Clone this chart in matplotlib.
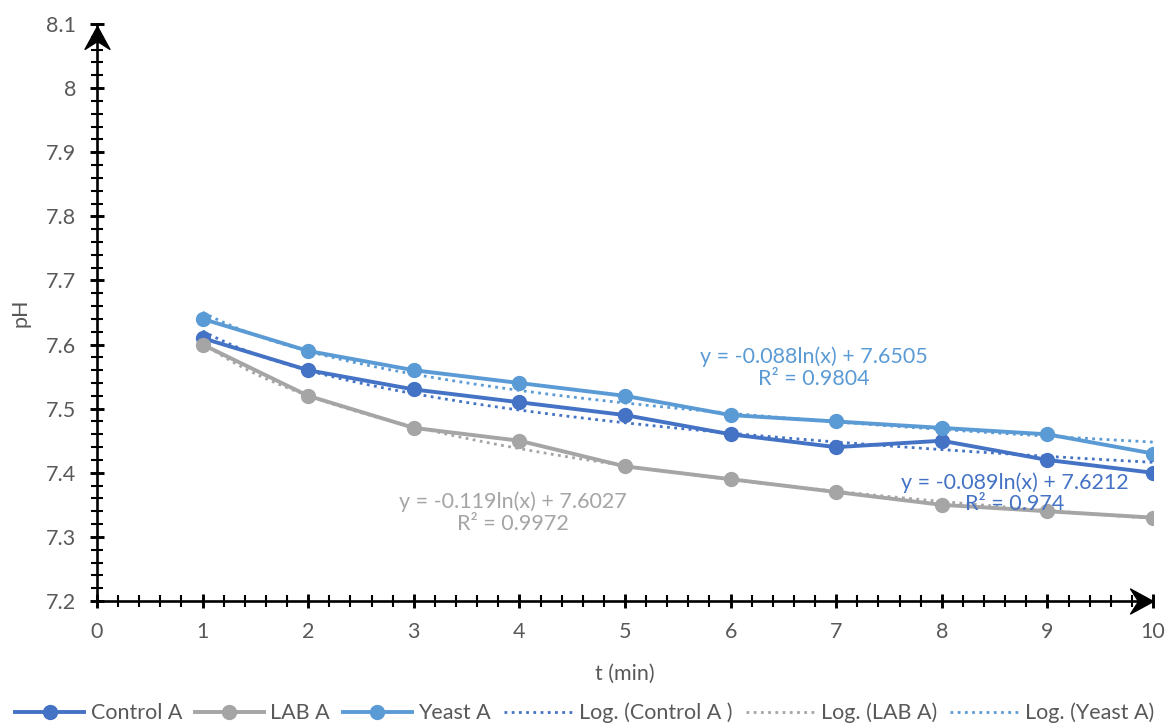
import numpy as np
import matplotlib
matplotlib.use('Agg')
import matplotlib.pyplot as plt
from matplotlib.path import Path
from matplotlib.ticker import MultipleLocator

plt.rcParams['font.family'] = ['Lato', 'DejaVu Sans']

t = [1, 2, 3, 4, 5, 6, 7, 8, 9, 10]
control_a = [7.61, 7.56, 7.53, 7.51, 7.49, 7.46, 7.44, 7.45, 7.42, 7.40]
lab_a = [7.60, 7.52, 7.47, 7.45, 7.41, 7.39, 7.37, 7.35, 7.34, 7.33]
yeast_a = [7.64, 7.59, 7.56, 7.54, 7.52, 7.49, 7.48, 7.47, 7.46, 7.43]

# log trendline coefficients: y = a*ln(x) + b, and R^2
fit_control = (-0.089, 7.6212, 0.974)
fit_lab = (-0.119, 7.6027, 0.9972)
fit_yeast = (-0.088, 7.6505, 0.9804)

c_control = '#4472C4'
c_lab = '#A5A5A5'
c_yeast = '#5B9BD5'
grey_txt = '#595959'

fig = plt.figure(figsize=(11.7, 7.26), dpi=100)
ax = fig.add_axes([97/1170, 1 - 601/726, (1153-97)/1170, (601-24)/726])

series = [
    ('Control A', control_a, c_control),
    ('LAB A', lab_a, c_lab),
    ('Yeast A', yeast_a, c_yeast),
]
for name, vals, col in series:
    ax.plot(t, vals, color=col, lw=2.8, marker='o', ms=10, label=name, zorder=3)

xs = np.linspace(1, 10, 200)
trend = [
    ('Log. (Control A )', fit_control, c_control),
    ('Log. (LAB A)', fit_lab, c_lab),
    ('Log. (Yeast A)', fit_yeast, c_yeast),
]
for name, (a, b, r2), col in trend:
    ax.plot(xs, a * np.log(xs) + b, color=col, lw=2, ls=(0, (1, 1.6)),
            label=name, zorder=4)

def eq_label(x, y, fit, col):
    a, b, r2 = fit
    txt = 'y = %gln(x) + %g\nR² = %g' % (a, b, r2)
    ax.text(x, y, txt, color=col, fontsize=15.5, ha='center', va='center',
            linespacing=1.1, zorder=5)

eq_label(6.79, 7.564, fit_yeast, c_yeast)
eq_label(8.69, 7.368, fit_control, c_control)
eq_label(3.94, 7.338, fit_lab, c_lab)

ax.set_xlim(0, 10)
ax.set_ylim(7.2, 8.1)
ax.xaxis.set_major_locator(MultipleLocator(1))
ax.xaxis.set_minor_locator(MultipleLocator(0.2))
ax.yaxis.set_minor_locator(MultipleLocator(0.02))
yt = np.round(np.arange(7.2, 8.11, 0.1), 1)
ax.set_yticks(yt)
ax.set_yticklabels(['%g' % v for v in yt])

for s in ['top', 'right']:
    ax.spines[s].set_visible(False)
for s in ['left', 'bottom']:
    ax.spines[s].set_linewidth(1.9)

ax.tick_params(which='major', direction='inout', length=10, width=2.1,
               labelsize=15.5, labelcolor=grey_txt, pad=10)
ax.tick_params(which='minor', direction='inout', length=8, width=1.5)

ax.set_xlabel('t (min)', fontsize=15.5, color=grey_txt, labelpad=16)
ax.set_ylabel('pH', fontsize=15.5, color=grey_txt, labelpad=11)

# stealth arrowheads at the axis ends, tip at (0, 0)
up_head = Path([(0, 0), (-12.5, -23), (0, -15), (12.5, -23), (0, 0)],
               [Path.MOVETO, Path.LINETO, Path.LINETO, Path.LINETO, Path.CLOSEPOLY])
right_head = Path([(0, 0), (-23, 12.5), (-15, 0), (-23, -12.5), (0, 0)],
                  [Path.MOVETO, Path.LINETO, Path.LINETO, Path.LINETO, Path.CLOSEPOLY])
ax.plot([0], [8.097], marker=up_head, ms=33, color='black', clip_on=False, zorder=6)
ax.plot([10], [7.2], marker=right_head, ms=33, color='black', clip_on=False, zorder=6)

handles, labels = ax.get_legend_handles_labels()
fig.legend(handles, labels, loc='center', bbox_to_anchor=(0.5, 1 - 713/726),
           ncol=6, frameon=False, fontsize=15.5, handlelength=3.2,
           handletextpad=0.3, columnspacing=0.6, labelcolor=grey_txt)

fig.savefig('out.png', dpi=100)
